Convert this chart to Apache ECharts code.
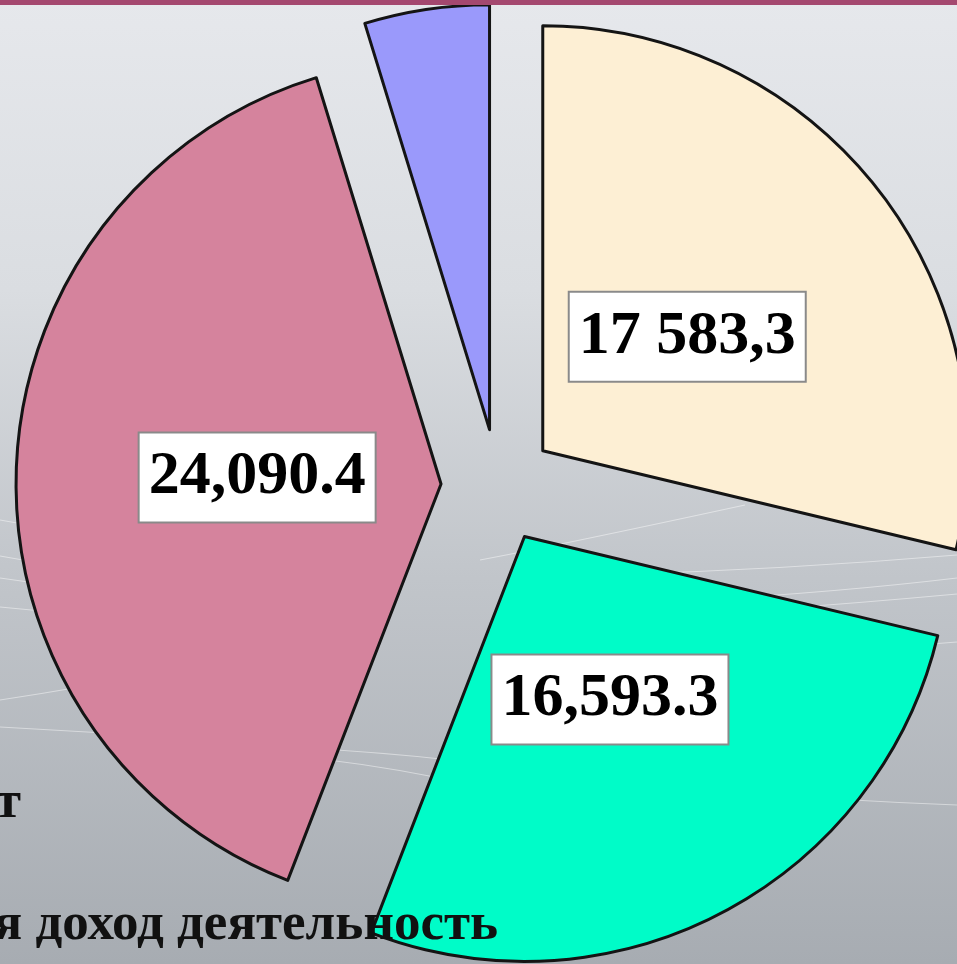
<!DOCTYPE html>
<html>
<head>
<meta charset="utf-8">
<script src="https://cdn.jsdelivr.net/npm/echarts@6/dist/echarts.min.js"></script>
<style>
  html, body { margin: 0; padding: 0; overflow: hidden; }
  #chart { width: 957px; height: 964px; }
</style>
</head>
<body>
<div id="chart"></div>
<script>
// Sector data, clockwise from 12 o'clock
const sectorNames = ['Сектор 1', 'Сектор 2', 'Сектор 3', 'Сектор 4'];
const sectorValues = [17583.3, 16593.3, 24090.4, 2900];
const sectorColors = ['#FDEFD4', '#00FCC8', '#D5839D', '#9A99FB'];
// number notation of each value label ('ru' = space groups, comma decimal)
const labelNotation = ['ru', 'en', 'en', 'en'];
const labelVisible = [true, true, true, false];
// legend fragments at the lower left
const legendTexts = ['т', 'я доход деятельность'];

function formatNumber(v, notation) {
  const parts = v.toFixed(1).split('.');
  const group = notation === 'ru' ? ' ' : ',';
  const dec = notation === 'ru' ? ',' : '.';
  return parts[0].replace(/\B(?=(\d{3})+(?!\d))/g, group) + dec + parts[1];
}

const CENTER = [498, 486];
const RADIUS = 425;
const OFFSET = 57;          // explode distance of every slice
const LABEL_DIST = 184;     // label distance from a slice's tip
const total = sectorValues.reduce((a, b) => a + b, 0);

const sliceData = sectorValues.map((v, i) => ({
  name: sectorNames[i],
  value: v,
  selected: true,
  itemStyle: { color: sectorColors[i] },
  select: { itemStyle: { color: sectorColors[i] } }
}));

// value labels sit on each slice's bisector, placed on a polar grid sharing the pie's centre
let acc = 0;
const labelPoints = [];
sectorValues.forEach((v, i) => {
  const mid = acc + v / 2;
  acc += v;
  if (labelVisible[i]) {
    labelPoints.push({ value: [OFFSET + LABEL_DIST, mid], text: formatNumber(v, labelNotation[i]) });
  }
});

// faint decorative swooshes in the backdrop
const swooshes = [
  [[0, 520], [60, 530], [120, 545]],
  [[0, 556], [60, 566], [120, 580]],
  [[0, 578], [60, 586], [120, 598]],
  [[0, 607], [60, 612], [120, 620]],
  [[0, 700], [80, 688], [160, 672]],
  [[0, 727], [100, 732], [200, 740]],
  [[280, 755], [360, 762], [440, 778]],
  [[300, 748], [380, 752], [450, 760]],
  [[480, 560], [560, 545], [745, 505]],
  [[600, 575], [780, 570], [957, 555]],
  [[700, 600], [840, 592], [957, 578]],
  [[760, 610], [860, 603], [957, 594]],
  [[880, 648], [920, 645], [957, 642]],
  [[700, 790], [830, 800], [957, 805]]
];

const graphics = [
  { type: 'rect', left: 0, top: 0, z: 20,
    shape: { width: 957, height: 5 }, style: { fill: '#A4486F' } }
];
swooshes.forEach(p => graphics.push({
  type: 'bezierCurve', z: -5,
  shape: { x1: p[0][0], y1: p[0][1], cpx1: p[1][0], cpy1: p[1][1], x2: p[2][0], y2: p[2][1] },
  style: { stroke: 'rgba(255,255,255,0.45)', lineWidth: 1.2, fill: null }
}));
graphics.push({
  type: 'text', z: 20, x: 21, y: 830,
  style: { text: legendTexts[0], font: 'bold 53px "Liberation Serif"', fill: '#111',
    textAlign: 'right', textVerticalAlign: 'bottom' }
});
graphics.push({
  type: 'text', z: 20, x: 498, y: 952,
  style: { text: legendTexts[1], font: 'bold 53px "Liberation Serif"', fill: '#111',
    textAlign: 'right', textVerticalAlign: 'bottom' }
});

const chart = echarts.init(document.getElementById('chart'), null, { renderer: 'canvas' });
chart.setOption({
  animation: false,
  backgroundColor: {
    type: 'linear', x: 0, y: 0, x2: 0, y2: 1,
    colorStops: [
      { offset: 0, color: '#E6E8EC' },
      { offset: 0.3, color: '#DADDE1' },
      { offset: 0.6, color: '#C1C5CA' },
      { offset: 1, color: '#A7ACB2' }
    ]
  },
  graphic: graphics,
  polar: { center: CENTER, radius: RADIUS },
  radiusAxis: { type: 'value', min: 0, max: RADIUS, show: false },
  angleAxis: { type: 'value', min: 0, max: total, startAngle: 90, clockwise: true, show: false },
  series: [
    {
      type: 'pie',
      center: CENTER,
      radius: [0, RADIUS],
      startAngle: 90,
      clockwise: true,
      selectedMode: 'multiple',
      selectedOffset: OFFSET,
      silent: true,
      z: 2,
      label: { show: false },
      labelLine: { show: false },
      itemStyle: { borderColor: '#141414', borderWidth: 3 },
      select: { itemStyle: { borderColor: '#141414', borderWidth: 3 } },
      emphasis: { disabled: true },
      data: sliceData
    },
    {
      type: 'scatter',
      coordinateSystem: 'polar',
      silent: true,
      z: 5,
      symbolSize: 1,
      itemStyle: { color: 'rgba(0,0,0,0)', opacity: 1 },
      emphasis: { disabled: true },
      label: {
        show: true,
        position: 'inside',
        formatter: p => p.data.text,
        color: '#000',
        opacity: 1,
        fontFamily: 'Liberation Serif',
        fontWeight: 'bold',
        fontSize: 62,
        lineHeight: 72,
        backgroundColor: '#ffffff',
        borderColor: '#8a8a8a',
        borderWidth: 2,
        padding: [8, 9, 8, 9]
      },
      data: labelPoints
    }
  ]
});
</script>
</body>
</html>
